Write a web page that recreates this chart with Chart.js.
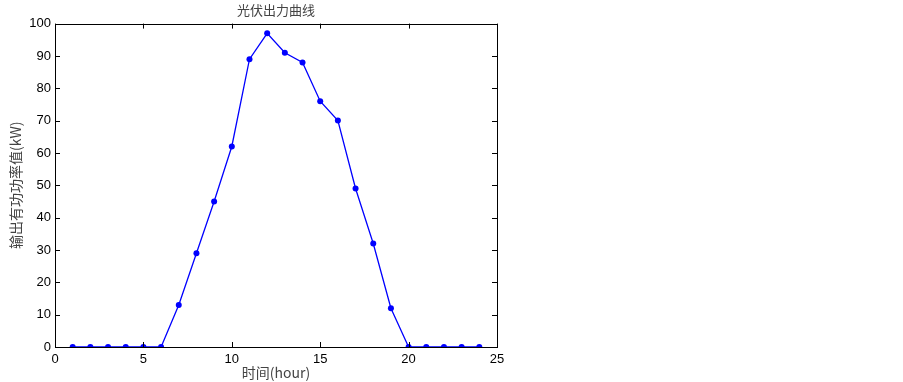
<!DOCTYPE html>
<html lang="zh">
<head>
    <meta charset="UTF-8">
    <title>光伏出力曲线</title>
    <script src="https://cdn.jsdelivr.net/npm/chart.js"></script>
    <style>
        body {
            margin: 0;
            background-color: #fff;
        }
        #wrap {
            width: 903px;
            height: 382px;
            position: relative;
        }
    </style>
</head>
<body>
    <div id="wrap"><canvas id="pvChart"></canvas></div>

    <script>
        const hours = [1, 2, 3, 4, 5, 6, 7, 8, 9, 10, 11, 12, 13, 14, 15, 16, 17, 18, 19, 20, 21, 22, 23, 24];
        const power = [0, 0, 0, 0, 0, 0, 13, 29, 45, 62, 89, 97, 91, 88, 76, 70, 49, 32, 12, 0, 0, 0, 0, 0];
        const xTicks = [0, 5, 10, 15, 20, 25];
        const yTicks = [0, 10, 20, 30, 40, 50, 60, 70, 80, 90, 100];

        const chartTitle = '光伏出力曲线';
        const xLabel = '时间(hour)';
        const yLabel = '输出有功功率值(kW)';

        const cjk = '"Noto Sans CJK SC", "Liberation Sans", sans-serif';
        const latin = '"Liberation Sans", Arial, sans-serif';

        // matlab style box with inward ticks
        const boxPlugin = {
            id: 'box',
            afterDatasetsDraw(chart) {
                const { ctx, chartArea: a, scales } = chart;
                ctx.save();
                ctx.strokeStyle = '#000';
                ctx.lineWidth = 1;
                ctx.strokeRect(Math.round(a.left) + 0.5, Math.round(a.top) + 0.5,
                    Math.round(a.right - a.left), Math.round(a.bottom - a.top));
                const len = 5;
                ctx.beginPath();
                xTicks.forEach(v => {
                    const px = Math.round(scales.x.getPixelForValue(v)) + 0.5;
                    ctx.moveTo(px, a.bottom); ctx.lineTo(px, a.bottom - len);
                    ctx.moveTo(px, a.top); ctx.lineTo(px, a.top + len);
                });
                yTicks.forEach(v => {
                    const py = Math.round(scales.y.getPixelForValue(v)) + 0.5;
                    ctx.moveTo(a.left, py); ctx.lineTo(a.left + len, py);
                    ctx.moveTo(a.right, py); ctx.lineTo(a.right - len, py);
                });
                ctx.stroke();
                ctx.restore();
            }
        };

        const ctx = document.getElementById('pvChart').getContext('2d');
        const pvChart = new Chart(ctx, {
            type: 'line',
            data: {
                datasets: [{
                    label: chartTitle,
                    data: hours.map((h, i) => ({ x: h, y: power[i] })),
                    borderColor: '#0000ff',
                    backgroundColor: '#0000ff',
                    borderWidth: 1.3,
                    pointRadius: 3,
                    pointBorderWidth: 0,
                    fill: false,
                    tension: 0
                }]
            },
            options: {
                responsive: true,
                maintainAspectRatio: false,
                animation: false,
                layout: {
                    padding: { left: 0, right: 406, top: 0, bottom: 0 }
                },
                plugins: {
                    legend: { display: false },
                    tooltip: { enabled: false },
                    title: {
                        display: true,
                        text: chartTitle,
                        fullSize: false,
                        color: '#444',
                        font: { family: cjk, size: 13, weight: 'normal' },
                        padding: { top: 2, bottom: 6 }
                    }
                },
                scales: {
                    x: {
                        type: 'linear',
                        min: 0,
                        max: 25,
                        afterBuildTicks: s => { s.ticks = xTicks.map(v => ({ value: v })); },
                        afterFit: s => { s.height = 35; },
                        grid: { display: false, drawTicks: false },
                        border: { display: false },
                        ticks: {
                            color: '#000',
                            padding: 5,
                            maxRotation: 0,
                            font: { family: latin, size: 13 }
                        },
                        title: {
                            display: true,
                            text: xLabel,
                            color: '#444',
                            font: { family: cjk, size: 14 },
                            padding: { top: 0, bottom: 1 }
                        }
                    },
                    y: {
                        min: 0,
                        max: 100,
                        afterBuildTicks: s => { s.ticks = yTicks.map(v => ({ value: v })); },
                        afterFit: s => { s.width = 55; },
                        grid: { display: false, drawTicks: false },
                        border: { display: false },
                        ticks: {
                            color: '#000',
                            padding: 4,
                            font: { family: latin, size: 13 }
                        },
                        title: {
                            display: true,
                            text: yLabel,
                            color: '#444',
                            font: { family: cjk, size: 14 },
                            padding: { top: 7, bottom: 0 }
                        }
                    }
                }
            },
            plugins: [boxPlugin]
        });
    </script>
</body>
</html>
